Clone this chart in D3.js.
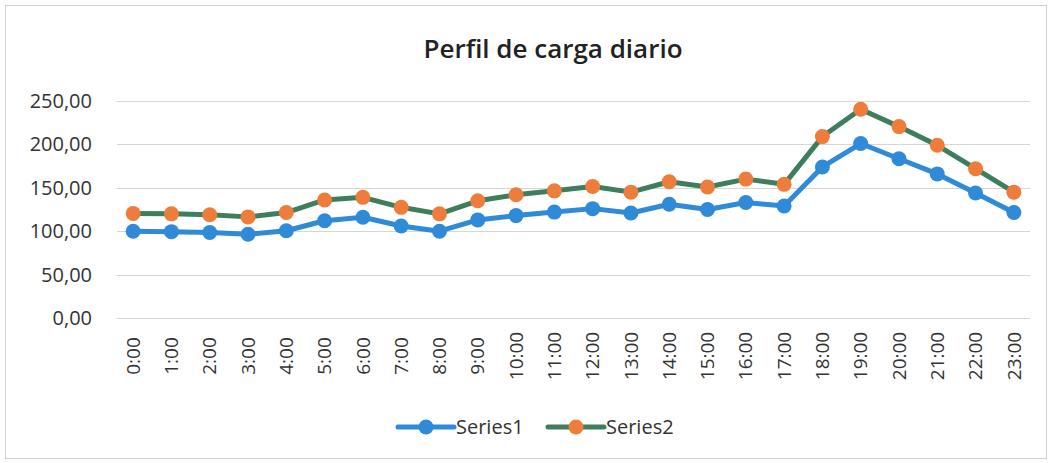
<!DOCTYPE html>
<html>
<head>
<meta charset="utf-8">
<script src="https://cdn.jsdelivr.net/npm/d3@7"></script>
<style>
  body { margin: 0; background: #fff; }
  text { font-family: "Open Sans", "Noto Sans", sans-serif; }
</style>
</head>
<body>
<div id="container"></div>
<script>
const hours = ["0:00","1:00","2:00","3:00","4:00","5:00","6:00","7:00","8:00","9:00","10:00","11:00",
  "12:00","13:00","14:00","15:00","16:00","17:00","18:00","19:00","20:00","21:00","22:00","23:00"];

const series1 = [100, 99.5, 98.5, 96.5, 100.5, 112, 116, 106, 100, 113, 118, 122,
  126, 121, 131, 125, 133, 129, 174, 201, 183.5, 166, 144, 121.5];
const series2 = [120.5, 120, 119, 116.5, 121.5, 136, 139, 127.5, 120, 135, 142, 146.5,
  151.5, 145, 157, 151, 160, 154, 209, 240.5, 220.5, 199, 172, 145];

const yTicks = [0, 50, 100, 150, 200, 250];

const BLUE = "#2f8ad8";
const GREEN = "#3d7f5c";
const ORANGE = "#ee7d3b";

const width = 1052, height = 463;
const margin = {top: 101, right: 19, bottom: 145, left: 114};

const svg = d3.select("#container").append("svg")
  .attr("width", width)
  .attr("height", height);

// chart frame
svg.append("rect")
  .attr("x", 5.5).attr("y", 5.5)
  .attr("width", width - 11).attr("height", height - 10)
  .attr("fill", "none")
  .attr("stroke", "#d0d0d0");

const x = d3.scaleBand()
  .domain(hours)
  .range([margin.left, width - margin.right]);

const y = d3.scaleLinear()
  .domain([0, 250])
  .range([height - margin.bottom, margin.top]);

const fmt = v => d3.format(".2f")(v).replace(".", ",");

// grid
svg.append("g")
  .selectAll("line")
  .data(yTicks)
  .join("line")
  .attr("x1", margin.left + 3)
  .attr("x2", width - margin.right - 3)
  .attr("y1", d => Math.round(y(d)) + 0.5)
  .attr("y2", d => Math.round(y(d)) + 0.5)
  .attr("stroke", "#d6d6d6")
  .attr("stroke-width", 1);

// y axis labels
svg.append("g")
  .attr("transform", `translate(${margin.left - 22},0)`)
  .call(d3.axisLeft(y).tickValues(yTicks).tickFormat(fmt).tickSize(0).tickPadding(0))
  .call(g => g.select(".domain").remove())
  .call(g => g.selectAll("text")
    .attr("font-size", 20)
    .attr("fill", "#333")
    .attr("font-family", "'Open Sans', sans-serif"));

// x axis labels
svg.append("g")
  .attr("transform", `translate(0,${height - margin.bottom + 38})`)
  .call(d3.axisBottom(x).tickSize(0).tickPadding(0))
  .call(g => g.select(".domain").remove())
  .call(g => g.selectAll("text")
    .attr("font-size", 19)
    .attr("fill", "#333")
    .attr("font-family", "'Open Sans', sans-serif")
    .attr("transform", "rotate(-90)")
    .attr("text-anchor", "middle")
    .attr("dy", "0.35em")
    .attr("x", 0)
    .attr("y", 0));

const cx = d => x(d) + x.bandwidth() / 2;

const series = [
  {name: "Series1", values: series1, line: BLUE, marker: BLUE},
  {name: "Series2", values: series2, line: GREEN, marker: ORANGE}
];

const line = d3.line()
  .x((d, i) => cx(hours[i]))
  .y(d => y(d));

series.forEach(s => {
  const g = svg.append("g");
  g.append("path")
    .datum(s.values)
    .attr("d", line)
    .attr("fill", "none")
    .attr("stroke", s.line)
    .attr("stroke-width", 5)
    .attr("stroke-linejoin", "round");
  g.selectAll("circle")
    .data(s.values)
    .join("circle")
    .attr("cx", (d, i) => cx(hours[i]))
    .attr("cy", d => y(d))
    .attr("r", 7.5)
    .attr("fill", s.marker);
});

// title
svg.append("text")
  .attr("x", 553)
  .attr("y", 58)
  .attr("text-anchor", "middle")
  .attr("font-size", 26)
  .attr("font-weight", 600)
  .attr("fill", "#222")
  .text("Perfil de carga diario");

// legend
const legend = svg.append("g")
  .selectAll("g")
  .data(series)
  .join("g")
  .attr("transform", (d, i) => `translate(${398 + i * 150},427)`);

legend.append("line")
  .attr("x1", 0).attr("x2", 56)
  .attr("stroke", d => d.line)
  .attr("stroke-width", 5)
  .attr("stroke-linecap", "round");

legend.append("circle")
  .attr("cx", 28)
  .attr("r", 7.5)
  .attr("fill", d => d.marker);

legend.append("text")
  .attr("x", 58)
  .attr("dy", "0.35em")
  .attr("font-size", 20)
  .attr("fill", "#333")
  .text(d => d.name);
</script>
</body>
</html>
